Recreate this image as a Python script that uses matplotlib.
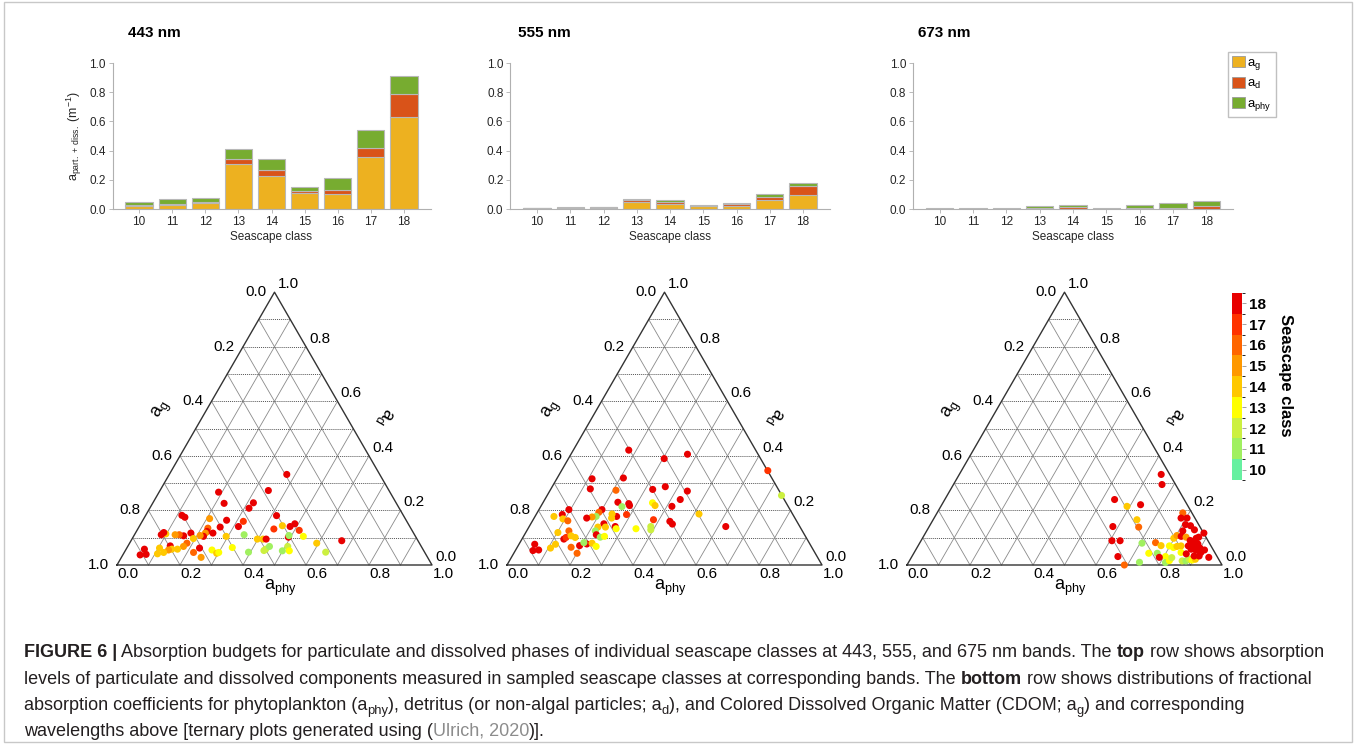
import numpy as np
import matplotlib
matplotlib.use('Agg')
import matplotlib.pyplot as plt
from matplotlib.colors import ListedColormap, BoundaryNorm
from matplotlib.patches import Patch, Rectangle
from matplotlib.cm import ScalarMappable
from matplotlib.ticker import FormatStrFormatter

plt.rcParams['font.family'] = ['Liberation Sans', 'DejaVu Sans']
plt.rcParams['mathtext.fontset'] = 'custom'
plt.rcParams['mathtext.rm'] = 'Liberation Sans'
plt.rcParams['mathtext.it'] = 'Liberation Sans:italic'
plt.rcParams['mathtext.bf'] = 'Liberation Sans:bold'

# ---------------- data ----------------
classes = np.arange(10, 19)

# stacked absorption (m^-1): a_g, a_d, a_phy
ag_443 = np.array([0.018, 0.025, 0.041, 0.309, 0.223, 0.109, 0.100, 0.355, 0.630])
ad_443 = np.array([0.012, 0.009, 0.007, 0.032, 0.045, 0.016, 0.030, 0.065, 0.160])
aphy_443 = np.array([0.015, 0.034, 0.029, 0.068, 0.075, 0.027, 0.080, 0.120, 0.120])

ag_555 = np.array([0.004, 0.004, 0.007, 0.050, 0.032, 0.018, 0.018, 0.059, 0.098])
ad_555 = np.array([0.003, 0.003, 0.004, 0.009, 0.016, 0.005, 0.014, 0.025, 0.057])
aphy_555 = np.array([0.002, 0.004, 0.005, 0.011, 0.016, 0.007, 0.009, 0.021, 0.022])

ag_673 = np.array([0.001, 0.001, 0.001, 0.001, 0.002, 0.001, 0.001, 0.002, 0.003])
ad_673 = np.array([0.001, 0.002, 0.001, 0.005, 0.009, 0.001, 0.004, 0.008, 0.018])
aphy_673 = np.array([0.003, 0.006, 0.005, 0.017, 0.019, 0.005, 0.020, 0.034, 0.036])

# fractional absorption per sample (a_g = 1 - a_phy - a_d)
aphy_t443 = [0.373, 0.344, 0.189, 0.227, 0.319, 0.315, 0.115, 0.128, 0.416, 0.209,
             0.266, 0.321, 0.453, 0.489, 0.479, 0.515, 0.432, 0.315, 0.258, 0.221,
             0.224, 0.222, 0.246, 0.222, 0.210, 0.176, 0.158, 0.142, 0.129, 0.098,
             0.085, 0.089, 0.194, 0.182, 0.177, 0.231, 0.220, 0.253, 0.134, 0.145,
             0.136, 0.163, 0.104, 0.125, 0.108, 0.058, 0.055, 0.073, 0.274, 0.295,
             0.300, 0.334, 0.294, 0.348, 0.394, 0.398, 0.416, 0.426, 0.440, 0.443,
             0.450, 0.499, 0.508, 0.521, 0.493, 0.492, 0.539, 0.594, 0.639, 0.669]
ad_t443 = [0.332, 0.273, 0.267, 0.226, 0.228, 0.208, 0.182, 0.175, 0.181, 0.170,
           0.164, 0.160, 0.144, 0.151, 0.141, 0.127, 0.132, 0.141, 0.139, 0.135,
           0.123, 0.117, 0.117, 0.105, 0.108, 0.117, 0.107, 0.111, 0.111, 0.114,
           0.111, 0.119, 0.097, 0.080, 0.068, 0.062, 0.046, 0.028, 0.070, 0.058,
           0.055, 0.058, 0.062, 0.046, 0.041, 0.058, 0.037, 0.039, 0.055, 0.043,
           0.046, 0.064, 0.105, 0.111, 0.047, 0.095, 0.095, 0.095, 0.053, 0.058,
           0.068, 0.052, 0.068, 0.052, 0.102, 0.108, 0.105, 0.080, 0.047, 0.089]
cls_t443 = [18, 18, 18, 18, 18, 18, 18, 18, 18, 15,
            18, 17, 14, 18, 18, 17, 17, 18, 18, 16,
            18, 15, 18, 18, 15, 18, 18, 16, 15, 14,
            18, 18, 14, 16, 15, 18, 16, 15, 18, 14,
            15, 14, 14, 14, 14, 18, 18, 18, 13, 14,
            13, 13, 14, 11, 11, 14, 14, 18, 12, 12,
            11, 11, 12, 13, 18, 11, 13, 14, 12, 18]

aphy_t555 = [0.176, 0.370, 0.304, 0.655, 0.744, 0.112, 0.210, 0.125, 0.209, 0.324,
             0.359, 0.437, 0.430, 0.416, 0.348, 0.361, 0.237, 0.274, 0.280, 0.258,
             0.287, 0.259, 0.240, 0.246, 0.200, 0.195, 0.194, 0.182, 0.167, 0.232,
             0.219, 0.243, 0.273, 0.280, 0.218, 0.228, 0.245, 0.257, 0.095, 0.060,
             0.083, 0.093, 0.112, 0.102, 0.134, 0.133, 0.137, 0.150, 0.166, 0.116,
             0.107, 0.171, 0.201, 0.195, 0.215, 0.230, 0.249, 0.203, 0.050, 0.056,
             0.073, 0.343, 0.382, 0.386, 0.392, 0.437, 0.450, 0.516, 0.624]
ad_t555 = [0.421, 0.406, 0.390, 0.346, 0.255, 0.316, 0.319, 0.279, 0.274, 0.277,
           0.287, 0.271, 0.240, 0.215, 0.228, 0.218, 0.230, 0.225, 0.218, 0.214,
           0.185, 0.178, 0.187, 0.172, 0.203, 0.193, 0.178, 0.176, 0.172, 0.151,
           0.139, 0.139, 0.141, 0.133, 0.125, 0.111, 0.102, 0.105, 0.203, 0.178,
           0.185, 0.169, 0.162, 0.119, 0.125, 0.095, 0.101, 0.107, 0.101, 0.076,
           0.062, 0.065, 0.043, 0.071, 0.077, 0.080, 0.068, 0.082, 0.076, 0.053,
           0.055, 0.133, 0.166, 0.141, 0.129, 0.160, 0.150, 0.187, 0.141]
cls_t555 = [18, 18, 18, 17, 12, 18, 18, 18, 16, 18,
            18, 18, 18, 18, 13, 14, 18, 18, 18, 11,
            17, 18, 14, 14, 18, 16, 11, 15, 18, 18,
            14, 14, 18, 13, 11, 18, 11, 13, 18, 14,
            18, 14, 16, 14, 16, 18, 17, 14, 14, 14,
            14, 16, 16, 18, 18, 14, 13, 11, 18, 18,
            18, 13, 17, 12, 12, 18, 18, 14, 18]

aphy_t673 = [0.641, 0.662, 0.539, 0.591, 0.631, 0.647, 0.666, 0.583, 0.606, 0.632,
             0.654, 0.690, 0.706, 0.733, 0.746, 0.748, 0.773, 0.771, 0.805, 0.787,
             0.816, 0.825, 0.827, 0.798, 0.814, 0.823, 0.835, 0.798, 0.803, 0.818,
             0.813, 0.847, 0.866, 0.878, 0.886, 0.896, 0.905, 0.780, 0.784, 0.803,
             0.810, 0.828, 0.848, 0.884, 0.875, 0.835, 0.854, 0.867, 0.885, 0.872,
             0.858, 0.873, 0.889, 0.899, 0.917, 0.895, 0.911, 0.944, 0.910, 0.866,
             0.869]
ad_t673 = [0.332, 0.295, 0.240, 0.215, 0.221, 0.166, 0.139, 0.141, 0.089, 0.089,
           0.031, 0.000, 0.080, 0.010, 0.043, 0.082, 0.043, 0.071, 0.031, 0.028,
           0.009, 0.016, 0.027, 0.070, 0.064, 0.068, 0.070, 0.098, 0.108, 0.105,
           0.125, 0.046, 0.015, 0.015, 0.021, 0.018, 0.021, 0.191, 0.172, 0.172,
           0.148, 0.144, 0.129, 0.117, 0.102, 0.102, 0.090, 0.086, 0.077, 0.070,
           0.070, 0.058, 0.055, 0.062, 0.055, 0.033, 0.033, 0.028, 0.046, 0.041,
           0.098]
cls_t673 = [18, 18, 18, 14, 18, 14, 16, 18, 18, 18,
            18, 16, 11, 11, 13, 16, 11, 14, 13, 18,
            11, 13, 12, 13, 13, 14, 14, 14, 15, 18,
            18, 13, 12, 11, 12, 13, 14, 16, 18, 18,
            18, 18, 18, 18, 18, 15, 18, 18, 18, 18,
            18, 18, 18, 18, 18, 18, 18, 18, 18, 18,
            18]

class_colors = ['#66f0a0', '#a0f060', '#ccf040', '#ffff00', '#ffc800',
                '#ff9900', '#ff6600', '#ff3300', '#e80000']
C_AG, C_AD, C_APHY = '#EDB120', '#D95319', '#77AC30'
TXT = '#262626'

W, H = 1357, 744
fig = plt.figure(figsize=(W / 100, H / 100), dpi=100)


def px_rect(l, t, r, b):
    return [l / W, 1 - b / H, (r - l) / W, (b - t) / H]


# ---------------- top row: stacked bars ----------------
bar_panels = [
    (112.5, 430.5, 128, '443 nm', ag_443, ad_443, aphy_443),
    (510.4, 829.6, 518, '555 nm', ag_555, ad_555, aphy_555),
    (913.0, 1233.0, 918, '673 nm', ag_673, ad_673, aphy_673),
]
bar_axes = []
for i, (l, r, tx, title, ag, ad, aphy) in enumerate(bar_panels):
    ax = fig.add_axes(px_rect(l, 63, r, 209))
    kw = dict(width=0.82, edgecolor='#b8b8b8', linewidth=0.8)
    ax.bar(classes, ag, color=C_AG, **kw)
    ax.bar(classes, ad, bottom=ag, color=C_AD, **kw)
    ax.bar(classes, aphy, bottom=ag + ad, color=C_APHY, **kw)
    ax.set_xlim(9.2, 18.8)
    ax.set_ylim(0, 1)
    ax.set_xticks(classes)
    ax.set_yticks(np.arange(0, 1.01, 0.2))
    ax.yaxis.set_major_formatter(FormatStrFormatter('%.1f'))
    for s in ('top', 'right'):
        ax.spines[s].set_visible(False)
    for s in ('left', 'bottom'):
        ax.spines[s].set_color('#b0b0b0')
        ax.spines[s].set_linewidth(0.8)
    ax.tick_params(length=3, width=0.6, color='#b0b0b0', labelsize=8.5,
                   labelcolor=TXT, pad=2)
    ax.set_xlabel('Seascape class', fontsize=8.5, color=TXT, labelpad=2)
    if i == 0:
        ax.set_ylabel(r'$\mathrm{a_{part.\,+\,diss.}\ (m^{-1})}$', fontsize=9,
                      color=TXT, labelpad=4)
    fig.text(tx / W, 1 - 33 / H, title, fontsize=11, weight='bold',
             va='center', ha='left')
    bar_axes.append(ax)

handles = [Patch(facecolor=c, edgecolor='#9a9a9a', linewidth=0.6)
           for c in (C_AG, C_AD, C_APHY)]
bar_axes[2].legend(handles, [r'$\mathrm{a_g}$', r'$\mathrm{a_d}$', r'$\mathrm{a_{phy}}$'],
                   loc='upper left', bbox_to_anchor=(1228 / W, 1 - 52 / H),
                   bbox_transform=fig.transFigure, fontsize=9.5, frameon=True,
                   fancybox=False, edgecolor='#c0c0c0', framealpha=1,
                   handlelength=1.0, handleheight=0.9, handletextpad=0.15,
                   borderpad=0.3, labelspacing=0.4, borderaxespad=0)

# ---------------- bottom row: ternary plots ----------------
cmap = ListedColormap(class_colors)
norm = BoundaryNorm(np.arange(9.5, 19.5, 1.0), cmap.N)
S = 315.0
BASE = 565.0
R3 = np.sqrt(3) / 2


def tern_xy(aphy, ad):
    aphy = np.asarray(aphy)
    ad = np.asarray(ad)
    return aphy + ad / 2, ad * R3


tern_panels = [
    (117, aphy_t443, ad_t443, cls_t443),
    (507, aphy_t555, ad_t555, cls_t555),
    (907, aphy_t673, ad_t673, cls_t673),
]
ticks = np.round(np.arange(0, 1.01, 0.2), 1)
for blx, aphy, ad, cls in tern_panels:
    L, R, T, B = blx - 60, blx + 375, 270, 615
    ax = fig.add_axes(px_rect(L, T, R, B))
    ax.set_xlim((L - blx) / S, (R - blx) / S)
    ax.set_ylim((BASE - B) / S, (BASE - T) / S)
    ax.axis('off')

    for v in np.arange(1, 10) / 10:
        # constant a_d (horizontal)
        x0, y0 = tern_xy(0, v)
        x1, y1 = tern_xy(1 - v, v)
        ax.plot([x0, x1], [y0, y1], color='#555555', lw=0.7,
                ls=(0, (1, 1)), zorder=1)
        # constant a_phy
        x0, y0 = tern_xy(v, 0)
        x1, y1 = tern_xy(v, 1 - v)
        ax.plot([x0, x1], [y0, y1], color='#8a8a8a', lw=0.6, zorder=1)
        # constant a_g
        x0, y0 = tern_xy(1 - v, 0)
        x1, y1 = tern_xy(0, 1 - v)
        ax.plot([x0, x1], [y0, y1], color='#8a8a8a', lw=0.6, zorder=1)

    ax.plot([0, 1, 0.5, 0], [0, 0, R3, 0], color='#333333', lw=1.0, zorder=2)

    for v in ticks:
        lab = f'{v:.1f}'
        ax.annotate(lab, tern_xy(0, 1 - v), xytext=(-8 * 0.72, 0),
                    textcoords='offset points', ha='right', va='center',
                    fontsize=11)
        ax.annotate(lab, tern_xy(1 - v, v), xytext=(3 * 0.72, 8 * 0.72),
                    textcoords='offset points', ha='left', va='center',
                    fontsize=11)
        ax.annotate(lab, tern_xy(v, 0), xytext=(11 * 0.72, -9 * 0.72),
                    textcoords='offset points', ha='center', va='center',
                    fontsize=11)

    ax.text(163 / S, (BASE - 588) / S, r'$\mathrm{a_{phy}}$',
            fontsize=13, ha='center', va='center')
    ax.text(45 / S, (BASE - 410) / S, r'$\mathrm{a_g}$', fontsize=13,
            rotation=60, ha='center', va='center')
    ax.text(268 / S, (BASE - 416) / S, r'$\mathrm{a_d}$', fontsize=13,
            rotation=-120, ha='center', va='center')

    x, y = tern_xy(aphy, ad)
    ax.scatter(x, y, c=cls, cmap=cmap, norm=norm, s=26, linewidths=0,
               zorder=3, clip_on=False)

# class colour bar
cax = fig.add_axes(px_rect(1232, 293, 1242, 480))
cb = fig.colorbar(ScalarMappable(norm=norm, cmap=cmap), cax=cax, ticks=classes)
cb.outline.set_visible(False)
cax.tick_params(labelsize=11, length=3, width=0.6, color='#909090', pad=2)
for t in cax.get_yticklabels():
    t.set_fontweight('bold')
fig.text(1285 / W, 1 - 375 / H, 'Seascape class', rotation=-90, fontsize=12,
         weight='bold', ha='center', va='center')

# ---------------- caption ----------------
renderer = fig.canvas.get_renderer()
CAP = 13
CAP_COL = '#231f20'


def caption_line(y_px, runs):
    x = 24.0
    for txt, style in runs:
        kw = dict(fontsize=CAP, color=CAP_COL, va='baseline', ha='left')
        yy = y_px
        if style == 'b':
            kw['fontweight'] = 'bold'
        elif style == 'g':
            kw['color'] = '#8c8c8c'
        elif style == 's':
            kw['fontsize'] = CAP * 0.72
            yy = y_px + 4
        t = fig.text(x / W, 1 - yy / H, txt, **kw)
        x += t.get_window_extent(renderer=renderer).width


caption_line(657, [('FIGURE 6 |', 'b'),
                   (' Absorption budgets for particulate and dissolved phases of individual '
                    'seascape classes at 443, 555, and 675 nm bands. The ', 'n'),
                   ('top', 'b'), (' row shows absorption', 'n')])
caption_line(684, [('levels of particulate and dissolved components measured in sampled '
                    'seascape classes at corresponding bands. The ', 'n'),
                   ('bottom', 'b'), (' row shows distributions of fractional', 'n')])
caption_line(710, [('absorption coefficients for phytoplankton (a', 'n'), ('phy', 's'),
                   ('), detritus (or non-algal particles; a', 'n'), ('d', 's'),
                   ('), and Colored Dissolved Organic Matter (CDOM; a', 'n'), ('g', 's'),
                   (') and corresponding', 'n')])
caption_line(736, [('wavelengths above [ternary plots generated using (', 'n'),
                   ('Ulrich, 2020', 'g'), (')].', 'n')])

fig.patches.append(Rectangle((4 / W, 2 / H), 1348 / W, 740 / H,
                             transform=fig.transFigure, fill=False,
                             edgecolor='#c8c8c8', lw=1))

fig.savefig('out.png', dpi=100)
